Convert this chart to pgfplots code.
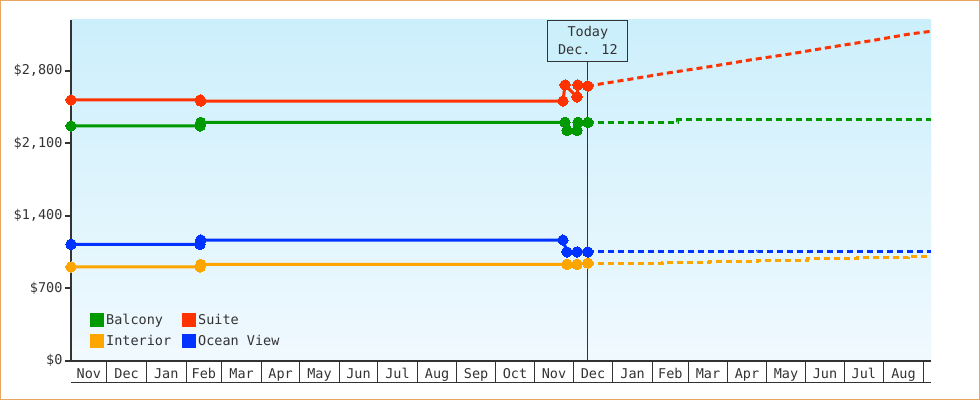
\documentclass[border=0pt]{standalone}
\usepackage{pgfplots}
\pgfplotsset{compat=1.18}
\usepackage{fontspec}
\setmainfont{DejaVu Sans Mono}
\definecolor{cgreen}{RGB}{0,153,0}
\definecolor{cred}{RGB}{255,51,0}
\definecolor{cblue}{RGB}{0,51,255}
\definecolor{corange}{RGB}{255,165,0}
\definecolor{bgtop}{RGB}{204,239,252}
\definecolor{bgbot}{RGB}{240,249,254}
\definecolor{txt}{RGB}{51,51,51}
\definecolor{border}{RGB}{232,166,96}
\begin{document}
\begin{tikzpicture}
\path[use as bounding box] (0,0) rectangle (980pt,400pt);
\fill[white] (0,0) rectangle (980pt,400pt);
\begin{axis}[
  at={(71pt,39.3pt)}, anchor=south west,
  scale only axis, width=860pt, height=340.7pt,
  xmin=2, xmax=675, ymin=0, ymax=3289,
  axis lines=left, axis line style={-, draw=txt, line width=2pt},
  axis background/.style={top color=bgtop, bottom color=bgbot},
  ytick={0,700,1400,2100,2800},
  yticklabels={\$0,\$700,{\$1,400},{\$2,100},{\$2,800}},
  tick align=outside,
  major tick length=6pt,
  ytick style={draw=txt, line width=2pt},
  xtick={16,45.5,76.5,106,135.5,166,196.5,227,257.5,288.5,319,349.5,380,410.5,441.5,471,500.5,531,561.5,592,622.5,653.5},
  xticklabels={Nov,Dec,Jan,Feb,Mar,Apr,May,Jun,Jul,Aug,Sep,Oct,Nov,Dec,Jan,Feb,Mar,Apr,May,Jun,Jul,Aug},
  xtick style={draw=none},
  tick label style={font=\fontsize{13.5}{15}\selectfont, text=txt},
  xticklabel style={anchor=base, yshift=-12pt},
  yticklabel style={xshift=1pt},
  clip=false,
  legend columns=2,
  legend cell align=left,
  legend style={at={(axis description cs:0.022,0.142)}, anchor=north west, draw=none, fill=none,
    font=\fontsize{13.5}{15}\selectfont, text=txt, inner sep=0pt, row sep=5pt,
    /tikz/every even column/.append style={column sep=9pt}},
  legend image code/.code={\fill[#1] (0pt,-5.5pt) rectangle (11pt,5.5pt);},
  every axis plot/.append style={line width=3pt, mark=*, mark size=5.2pt, mark options={solid, line width=0pt}},
]
\addplot[cgreen] coordinates {(2,2266) (103,2266) (103.5,2301) (388.6,2301) (390.1,2224) (398,2224) (398.7,2301) (406.5,2301)};
\addlegendentry{Balcony}
\addplot[cred] coordinates {(2,2517) (103,2517) (103.5,2507) (387,2507) (388.6,2662) (398,2546) (398.7,2662) (406.5,2652)};
\addlegendentry{Suite}
\addplot[corange] coordinates {(2,905) (103,905) (103.5,931) (390.1,931) (398,931) (406.5,943)};
\addlegendentry{Interior}
\addplot[cblue] coordinates {(2,1124) (103,1124) (103.5,1165) (387,1165) (390.1,1050) (398,1050) (406.5,1050)};
\addlegendentry{Ocean View}
\addplot[cgreen, dash pattern=on 6pt off 4pt, mark=none, forget plot] coordinates {(406.5,2301) (477,2301) (477,2324) (675,2324)};
\addplot[cred, dash pattern=on 6pt off 4pt, mark=none, forget plot] coordinates {(406.5,2652) (439.4,2717) (470.7,2781) (502,2839) (533.3,2903) (564.6,2961) (595.9,3026) (627.2,3087) (658.5,3154) (675,3180)};
\addplot[corange, dash pattern=on 6pt off 4pt, mark=none, forget plot] coordinates {(406.5,943) (464.5,943) (464.5,950) (502,950) (502,960) (539.6,960) (539.6,972) (578.7,972) (578.7,982) (617.8,982) (617.8,994) (657,994) (657,1008) (675,1008)};
\addplot[cblue, dash pattern=on 6pt off 4pt, mark=none, forget plot] coordinates {(406.5,1050) (539.6,1050) (539.6,1056) (675,1056)};
% month separators of the date axis
\pgfplotsinvokeforeach{30,61,92,120,151,181,212,242,273,304,334,365,395,426,457,485,516,546,577,607,638,669}{
  \draw[txt, line width=1pt] (axis cs:#1,0) -- ++(0pt,-22pt);
}
\draw[txt, line width=1.5pt] ([yshift=-22pt]rel axis cs:0,0) -- ([yshift=-22pt]rel axis cs:1,0);
% today marker
\node[draw=txt, line width=1pt, fill=bgtop, minimum width=80pt, minimum height=40.7pt, inner sep=0pt, align=center, anchor=north, text=txt, font=\fontsize{13.5}{18}\selectfont] (today) at (axis cs:406.5,3289) {Today\\Dec. 12};
\draw[txt, line width=1pt] (today.south) -- (axis cs:406.5,0);
\end{axis}
\draw[border, line width=1pt] (0.5pt,0.5pt) rectangle (979.5pt,399.5pt);
\end{tikzpicture}
\end{document}
